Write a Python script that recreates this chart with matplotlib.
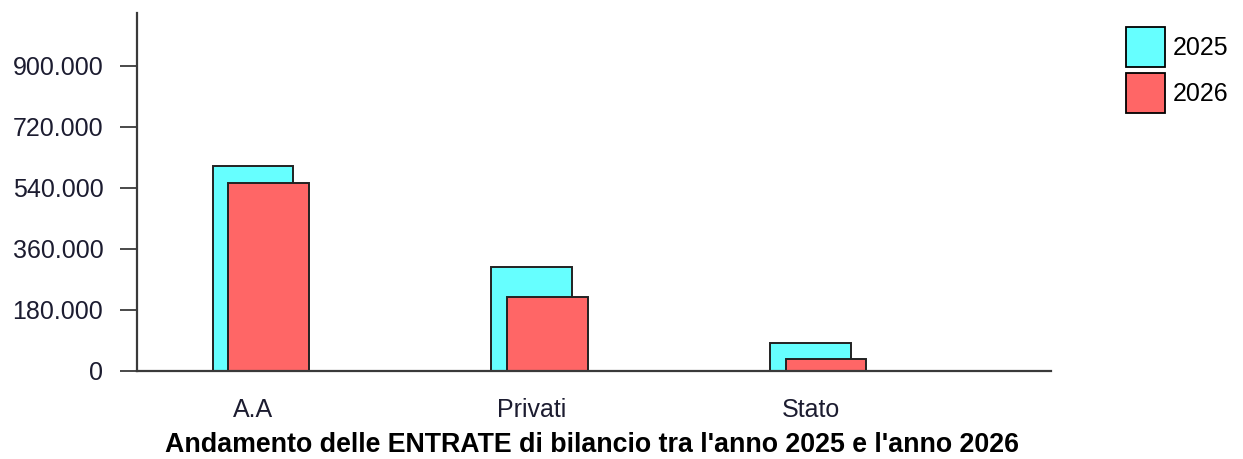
import matplotlib
matplotlib.use("Agg")
import matplotlib.pyplot as plt
import numpy as np
from matplotlib.ticker import FuncFormatter
from matplotlib.patches import Patch

# dati
categorie = ["A.A", "Privati", "Stato"]
entrate_2025 = [605000, 307000, 82000]
entrate_2026 = [555000, 217000, 35000]
anni = ["2025", "2026"]
yticks = [0, 180000, 360000, 540000, 720000, 900000]
titolo = "Andamento delle ENTRATE di bilancio tra l'anno 2025 e l'anno 2026"

plt.rcParams["font.family"] = ["Liberation Sans", "DejaVu Sans"]

col_2025 = "#66FFFF"
col_2026 = "#FF6666"
bordo = "#222222"

fig = plt.figure(figsize=(12.43, 4.59), dpi=100)
ax = fig.add_axes([136.5/1243, 1-370.5/459, (1051-136.5)/1243, (370.5-12.7)/459])

x = np.arange(len(categorie))
w = 0.289
off = 0.0556
ax.bar(x, entrate_2025, width=w, color=col_2025, edgecolor=bordo, linewidth=1.4)
ax.bar(x + off, entrate_2026, width=w, color=col_2026, edgecolor=bordo, linewidth=1.4)

ax.set_xlim(-0.4176, 2.862)
ax.set_ylim(0, 1057000)
ax.set_yticks(yticks)
ax.yaxis.set_major_formatter(FuncFormatter(lambda v, p: f"{int(v):,}".replace(",", ".")))
ax.set_xticks(x)
ax.set_xticklabels(categorie)

for s in ["top", "right"]:
    ax.spines[s].set_visible(False)
for s in ["left", "bottom"]:
    ax.spines[s].set_color("#3a3a3a")
    ax.spines[s].set_linewidth(1.6)

ax.tick_params(axis="y", length=11.9, width=1.3, color="#3a3a3a", pad=12,
               labelsize=18, labelcolor="#1c1c30")
ax.tick_params(axis="x", length=0, pad=20, labelsize=18, labelcolor="#1c1c30")

handles = [Patch(facecolor=col_2025, edgecolor="black", linewidth=1.3),
           Patch(facecolor=col_2026, edgecolor="black", linewidth=1.3)]
fig.legend(handles, anni, loc="upper left", bbox_to_anchor=(1126/1243, 1-27/459),
           frameon=False, fontsize=18, handlelength=1.56, handleheight=2.08,
           handletextpad=0.32, labelspacing=0.23, borderpad=0, borderaxespad=0)

fig.text(592/1243, 1-452/459, titolo, ha="center", va="baseline",
         fontsize=19.3, fontweight="bold", color="black")

fig.savefig("out.png", dpi=100)
